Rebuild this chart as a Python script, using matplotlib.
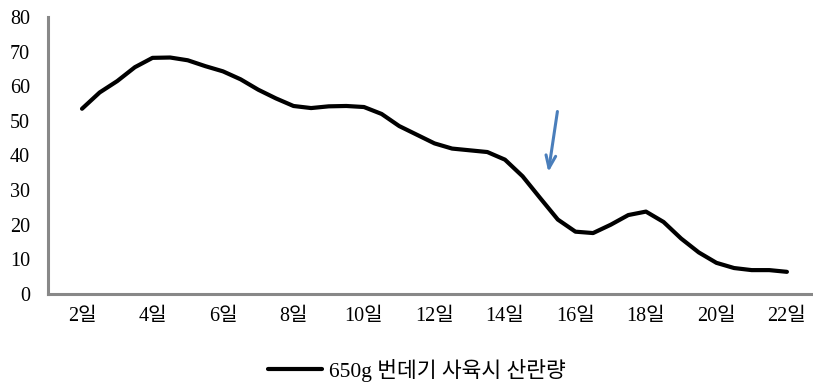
import matplotlib
matplotlib.use("Agg")
import matplotlib.pyplot as plt

plt.rcParams['font.family'] = ['Liberation Serif', 'Noto Sans CJK KR', 'DejaVu Sans']

# Egg production per half day (days 2..22)
days = [2 + 0.5 * i for i in range(41)]
eggs = [53.5, 58.2, 61.5, 65.5, 68.2, 68.3, 67.5, 65.8, 64.3, 62.0,
        59.0, 56.5, 54.3, 53.7, 54.2, 54.3, 54.0, 52.0, 48.5, 46.0,
        43.5, 42.0, 41.5, 41.0, 38.8, 34.0, 27.7, 21.5, 18.0, 17.6,
        20.0, 22.8, 23.8, 20.8, 16.0, 12.0, 9.0, 7.5, 6.9, 6.9, 6.4]

tick_days = list(range(2, 23, 2))
tick_labels = [f"{d}일" for d in tick_days]
y_ticks = list(range(0, 81, 10))
series_label = "650g 번데기 사육시 산란량"

fig = plt.figure(figsize=(8.13, 3.82), dpi=100)
ax = fig.add_axes([48 / 813, 1 - 294 / 382, 1 - 48 / 813, (294 - 17) / 382])

ax.plot(days, eggs, color='black', linewidth=3.0, solid_joinstyle='round',
        solid_capstyle='round', label=series_label)

# Blue arrow pointing at the sharp drop
ax.annotate("", xy=(15.22, 34.4), xytext=(15.5, 53.5),
            arrowprops=dict(arrowstyle='->,head_length=0.9,head_width=0.35',
                            color='#4a7ebb', lw=2.2))

ax.set_xlim(1.035, 22.74)
ax.set_ylim(0, 80)
ax.set_xticks(tick_days)
ax.set_xticklabels(tick_labels)
ax.set_yticks(y_ticks)
ax.tick_params(axis='both', length=0, labelsize=14.5)
ax.tick_params(axis='y', pad=13)
ax.tick_params(axis='x', pad=9)

for side in ('top', 'right'):
    ax.spines[side].set_visible(False)
for side in ('left', 'bottom'):
    ax.spines[side].set_color('#888888')
    ax.spines[side].set_linewidth(2.2)

fig.legend(loc='center', bbox_to_anchor=(417 / 813, 1 - 370 / 382),
           frameon=False, fontsize=15.5, handlelength=2.5, handletextpad=0.3)

fig.savefig("out.png", dpi=100)
